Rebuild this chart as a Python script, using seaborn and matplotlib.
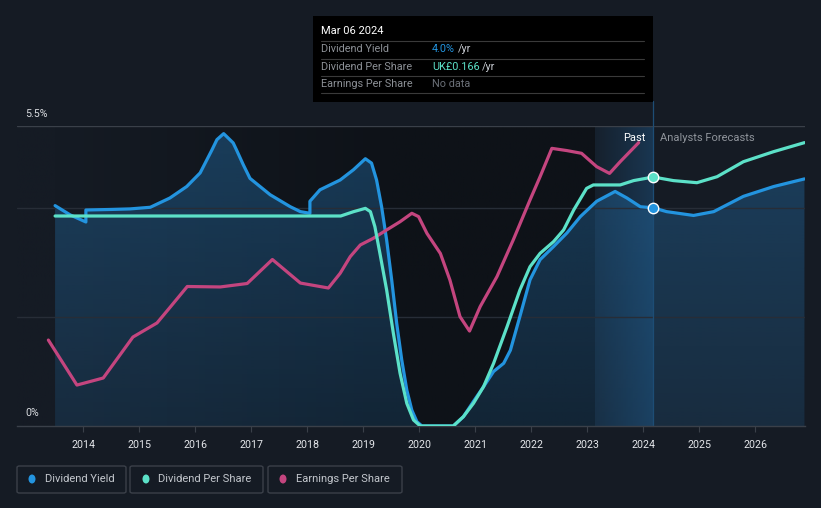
import numpy as np
import pandas as pd
import matplotlib
matplotlib.use("Agg")
import matplotlib.pyplot as plt
import seaborn as sns
from matplotlib.patches import Rectangle, FancyBboxPatch, Ellipse
from matplotlib.lines import Line2D

# ---------------- data ----------------
dy_t = [2013.50, 2013.77, 2014.05, 2014.05, 2014.50, 2014.84, 2015.20, 2015.55, 2015.85, 2016.09,
        2016.21, 2016.30, 2016.39, 2016.51, 2016.68, 2016.74, 2016.86, 2016.98, 2017.34, 2017.70,
        2017.88, 2018.05, 2018.05, 2018.23, 2018.41, 2018.59, 2018.83, 2019.04, 2019.15, 2019.24,
        2019.33, 2019.42, 2019.51, 2019.60, 2019.69, 2019.78, 2019.87, 2019.96, 2020.05, 2020.61,
        2020.79, 2020.97, 2021.15, 2021.33, 2021.51, 2021.63, 2021.80, 2021.98, 2022.16, 2022.40,
        2022.64, 2022.88, 2023.17, 2023.50, 2023.71, 2023.95, 2024.18, 2024.42, 2024.90, 2025.26,
        2025.79, 2026.33, 2026.88]
dy_v = [4.04, 3.87, 3.74, 3.96, 3.97, 3.98, 4.01, 4.18, 4.39, 4.64,
        4.88, 5.06, 5.25, 5.36, 5.19, 5.06, 4.79, 4.54, 4.24, 4.02,
        3.93, 3.90, 4.12, 4.33, 4.42, 4.51, 4.70, 4.90, 4.82, 4.51,
        4.02, 3.41, 2.68, 1.88, 1.21, 0.66, 0.29, 0.08, 0.00, 0.00,
        0.17, 0.45, 0.72, 1.00, 1.15, 1.39, 2.01, 2.68, 3.05, 3.29,
        3.54, 3.84, 4.12, 4.30, 4.18, 4.02, 4.00, 3.93, 3.86, 3.93,
        4.21, 4.39, 4.53]

dps_t = [2013.50, 2018.60, 2018.83, 2019.04, 2019.13, 2019.21, 2019.30, 2019.42, 2019.54, 2019.66,
         2019.78, 2019.90, 2020.02, 2020.61, 2020.79, 2020.97, 2021.15, 2021.33, 2021.57, 2021.80,
         2021.98, 2022.16, 2022.40, 2022.58, 2022.76, 2022.99, 2023.11, 2023.59, 2023.83, 2024.18,
         2024.54, 2024.96, 2025.32, 2025.79, 2026.33, 2026.88]
dps_v = [0.140, 0.140, 0.1429, 0.1451, 0.1429, 0.1329, 0.1151, 0.0907, 0.0618, 0.0351,
         0.0151, 0.004, 0.000, 0.000, 0.0062, 0.0151, 0.0262, 0.0418, 0.0662, 0.0907,
         0.1062, 0.1151, 0.1229, 0.1307, 0.1440, 0.1584, 0.1607, 0.1607, 0.1636, 0.166,
         0.1636, 0.1622, 0.1662, 0.1762, 0.1829, 0.1889]

eps_t = [2013.38, 2013.64, 2013.89, 2014.36, 2014.89, 2015.32, 2015.55, 2015.86, 2016.45, 2016.93,
         2017.38, 2017.88, 2018.38, 2018.59, 2018.77, 2018.95, 2019.18, 2019.42, 2019.66, 2019.87,
         2019.99, 2020.14, 2020.38, 2020.55, 2020.73, 2020.90, 2021.09, 2021.39, 2021.68, 2021.98,
         2022.16, 2022.37, 2022.64, 2022.90, 2023.17, 2023.40, 2023.59, 2023.92]
eps_v = [0.0573, 0.042, 0.0273, 0.032, 0.0593, 0.0687, 0.079, 0.093, 0.0927, 0.095,
         0.111, 0.0953, 0.092, 0.1018, 0.1129, 0.1207, 0.1251, 0.1307, 0.1362, 0.1418,
         0.1396, 0.1284, 0.115, 0.0973, 0.0729, 0.0633, 0.0796, 0.0996, 0.124, 0.1507,
         0.1662, 0.1851, 0.1836, 0.1818, 0.1729, 0.1684, 0.1762, 0.1889]

years = list(range(2014, 2027))
year_labels = [str(y) for y in years]
legend_labels = ["Dividend Yield", "Dividend Per Share", "Earnings Per Share"]
tooltip_date = "Mar 06 2024"
tooltip_rows = [("Dividend Yield", "4.0%", " /yr"),
                ("Dividend Per Share", "UK£0.166", " /yr"),
                ("Earnings Per Share", "No data", "")]
now_t = 2024.18
now_dy = 4.0
now_dps = 0.166
band_start = 2023.14

# ---------------- style ----------------
BG = "#151b24"
DARK = np.array([14, 18, 24]) / 255
BGc = np.array([21, 27, 36]) / 255
BLUE = "#2394df"
TEAL = "#5ce1c8"
PINK = "#c4457f"

sns.set_theme(style="dark")
plt.rcParams['font.family'] = ['Roboto', 'DejaVu Sans']

W, H = 821, 508
fig = plt.figure(figsize=(W / 100, H / 100), dpi=100, facecolor=BG)
L, R, B, T = 17 / W, 805 / W, 1 - 426 / H, 1 - 126 / H
ax = fig.add_axes([L, B, R - L, T - B])
ax.set_facecolor(BG)
XMIN, XMAX = 2012.82, 2026.89
YMAX = 5.5

# past background gradient
xs = np.linspace(XMIN, band_start, 400)
f = np.clip((xs - 2013.5) / 6.0, 0, 1)
img = (BGc[None, :] * (1 - f[:, None]) + DARK[None, :] * f[:, None])[None, :, :]
ax.imshow(img, extent=[XMIN, band_start, 0, YMAX], aspect='auto', origin='lower', zorder=0.1)

# highlight band
bx = np.linspace(0, 1, 100)
band = np.zeros((1, 100, 4))
band[..., 0], band[..., 1], band[..., 2] = 35 / 255, 120 / 255, 190 / 255
band[0, :, 3] = 0.06 + 0.24 * bx
ax.imshow(band, extent=[band_start, now_t, 0, YMAX], aspect='auto', origin='lower', zorder=0.2)

# gradient fill under dividend yield
poly = ax.fill_between(dy_t, dy_v, 0, color='none', lw=0)
gy = np.linspace(0, 1, 200)
grad = np.zeros((200, 1, 4))
grad[..., 0], grad[..., 1], grad[..., 2] = 35 / 255, 105 / 255, 160 / 255
grad[:, 0, 3] = 0.22 + 0.25 * gy
im = ax.imshow(grad, extent=[dy_t[0], dy_t[-1], 0, YMAX], aspect='auto', origin='lower', zorder=0.3)
im.set_clip_path(poly.get_paths()[0], transform=ax.transData)

# grid lines
for g, c in [(2, "#272d37"), (4, "#272d37"), (5.5, "#3a4049")]:
    ax.axhline(g, color=c, lw=1, zorder=0.4)
ax.axvline(now_t, ymin=0, ymax=(426 - 101) / 300, color="#1d4d75", lw=0.9, zorder=0.5, clip_on=False)

line_kw = dict(lw=2.3, sort=False, estimator=None, solid_joinstyle='round', solid_capstyle='round')
sns.lineplot(x=dy_t, y=dy_v, ax=ax, color=BLUE, zorder=3, **line_kw)
ax.plot([now_t], [now_dy], 'o', ms=7.5, mfc=BLUE, mec='white', mew=1.0, zorder=5)

ax.set_xlim(XMIN, XMAX)
ax.set_ylim(0, YMAX)
ax.set_xticks(years)
ax.set_xticklabels(year_labels, color="#e4e6ea", fontsize=7.7)
ax.set_yticks([])
ax.tick_params(axis='x', length=4, width=0.8, color="#3a4049", pad=6, bottom=True)
for s in ['top', 'left', 'right']:
    ax.spines[s].set_visible(False)
ax.spines['bottom'].set_color("#3a4049")
ax.spines['bottom'].set_linewidth(1)
ax.set_xlabel("")
ax.set_ylabel("")
ax.grid(False)

ax2 = ax.twinx()
ax2.set_ylim(0, 0.2)
sns.lineplot(x=eps_t, y=eps_v, ax=ax2, color=PINK, zorder=2, **line_kw)
sns.lineplot(x=dps_t, y=dps_v, ax=ax2, color=TEAL, zorder=3, **line_kw)
ax2.plot([now_t], [now_dps], 'o', ms=7.5, mfc=TEAL, mec='white', mew=1.0, zorder=5)
ax2.set_xlim(XMIN, XMAX)
ax2.set_axis_off()

# axis labels
fig.text(25 / W, 1 - 114 / H, "5.5%", color="#d9dce0", fontsize=7.7, va='center', ha='left')
fig.text(25 / W, 1 - 413 / H, "0%", color="#d9dce0", fontsize=7.7, va='center', ha='left')
fig.text(645 / W, 1 - 138 / H, "Past", color="#ffffff", fontsize=8, va='center', ha='right')
fig.text(660 / W, 1 - 138 / H, "Analysts Forecasts", color="#8f949b", fontsize=8, va='center', ha='left')

# tooltip
fig.add_artist(Rectangle((312.7 / W, 1 - 102 / H), 340 / W, 86 / H, transform=fig.transFigure,
                         facecolor="#000000", edgecolor='none', zorder=10))
fig.text(321 / W, 1 - 31 / H, tooltip_date, color="#ffffff", fontsize=8, va='center', ha='left', zorder=11)
for ysep in [41.3, 58.7, 76.3, 93.3]:
    fig.add_artist(Line2D([321 / W, 644 / W], [1 - ysep / H] * 2, transform=fig.transFigure,
                          color="#3a3a3a", lw=0.8, zorder=11))
row_y = [49.3, 66.7, 84.3]
val_colors = [BLUE, TEAL, "#6b7078"]
suffix_x = [458, 482, 0]
for (lab, val, suf), yy, vc, sx in zip(tooltip_rows, row_y, val_colors, suffix_x):
    fig.text(321 / W, 1 - yy / H, lab, color="#8c9096", fontsize=7.8, va='center', ha='left', zorder=11)
    fig.text(432 / W, 1 - yy / H, val, color=vc, fontsize=7.8, va='center', ha='left', zorder=11)
    if suf:
        fig.text(sx / W, 1 - yy / H, suf.strip(), color="#c8ccd2", fontsize=7.8, va='center', ha='left', zorder=11)

# legend boxes
boxes = [(17, 126), (130, 263), (268, 402)]
dots_x = [32, 146, 283]
text_x = [44.5, 158, 296]
colors = [BLUE, TEAL, PINK]
for (x0, x1), dx, tx, c, lab in zip(boxes, dots_x, text_x, colors, legend_labels):
    fig.add_artist(FancyBboxPatch((x0 / W, 1 - 493 / H), (x1 - x0) / W, 27 / H,
                                  boxstyle="round,pad=0,rounding_size=0.003",
                                  transform=fig.transFigure, facecolor='none',
                                  edgecolor="#3b4049", lw=1))
    fig.add_artist(Ellipse((dx / W, 1 - 479 / H), 7 / W, 9 / H, transform=fig.transFigure,
                           facecolor=c, edgecolor='none'))
    fig.text(tx / W, 1 - 479 / H, lab, color="#c3c7cd", fontsize=8, va='center', ha='left')

fig.savefig("out.png", dpi=100, facecolor=BG)
